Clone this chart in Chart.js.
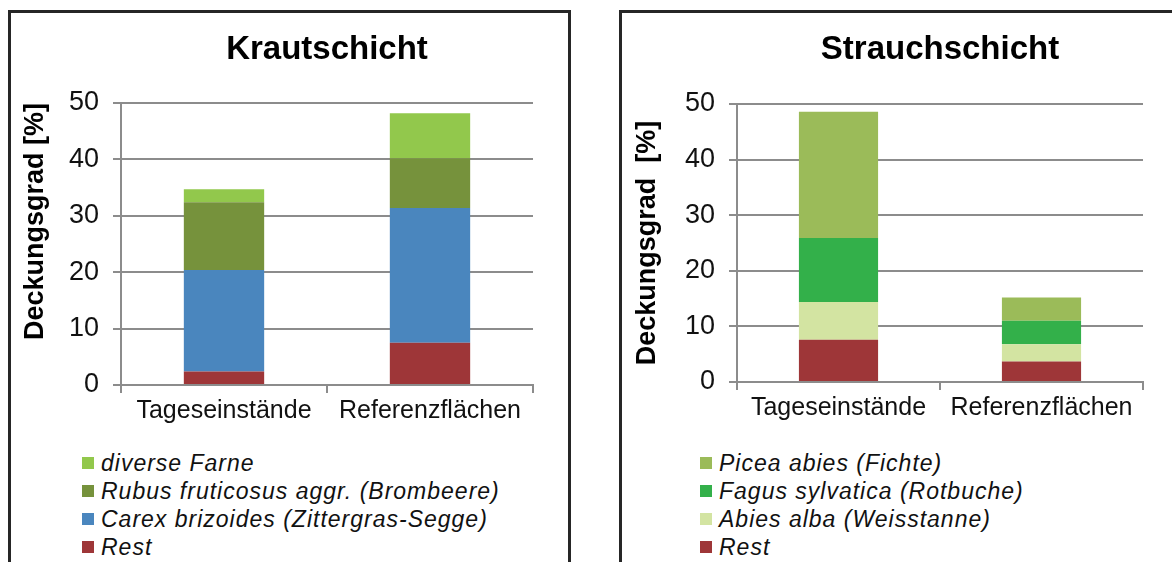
<!DOCTYPE html>
<html>
<head>
<meta charset="utf-8">
<script src="https://cdn.jsdelivr.net/npm/chart.js@4"></script>
<style>
  body { margin: 0; background: #fff; width: 1172px; height: 562px; overflow: hidden; position: relative; font-family: "Liberation Sans", Arial, sans-serif; }
  .frame { position: absolute; border: 3px solid #262626; box-sizing: border-box; }
  canvas { position: absolute; }
  .legend { position: absolute; font-style: italic; font-size: 23px; letter-spacing: 1px; color: #111; line-height: 28px; white-space: nowrap; }
  .legend div { display: flex; align-items: center; }
  .legend span.box { display: inline-block; width: 12px; height: 12px; margin-right: 7px; }
</style>
</head>
<body>
<div class="frame" style="left:8px; top:10px; width:563px; height:600px;"></div>
<div class="frame" style="left:619px; top:10px; width:600px; height:600px;"></div>
<canvas id="kraut" width="556" height="416" style="left:11px; top:13px;"></canvas>
<canvas id="strauch" width="549" height="413" style="left:623px; top:13px;"></canvas>
<div class="legend" id="legKraut" style="left:82px; top:449px;"></div>
<div class="legend" id="legStrauch" style="left:700px; top:449px;"></div>
<script>
// Kategorien und Werte (Deckungsgrad in %)
const kategorien = ["Tageseinstände", "Referenzflächen"];

// Krautschicht
const krautRest = [2.4, 7.5];
const krautCarex = [18.0, 23.9];
const krautRubus = [12.0, 8.8];
const krautFarne = [2.3, 8.0];

// Strauchschicht
const strauchRest = [7.6, 3.7];
const strauchAbies = [6.8, 3.1];
const strauchFagus = [11.5, 4.2];
const strauchPicea = [22.7, 4.2];

const yTicks = [0, 10, 20, 30, 40, 50];

const gridColor = "#8c8c8c";
const fontFamily = "'Liberation Sans', Arial, sans-serif";

function makeChart(id, title, yTitle, yTitleAlign, datasets, opts) {
  const ctx = document.getElementById(id).getContext("2d");
  return new Chart(ctx, {
    type: "bar",
    data: {
      labels: kategorien,
      datasets: datasets.map((d) => ({
        label: d.label,
        data: d.data,
        backgroundColor: d.color,
        borderWidth: 0,
        barPercentage: 0.39,
        categoryPercentage: 1,
      })),
    },
    options: {
      responsive: false,
      animation: false,
      devicePixelRatio: 1,
      layout: { padding: { left: 8, right: opts.padRight, top: 0, bottom: 0 } },
      plugins: {
        legend: { display: false },
        tooltip: { enabled: false },
        title: {
          display: true,
          text: title,
          fullSize: false,
          color: "#000",
          font: { family: fontFamily, size: 33, weight: "bold" },
          padding: { top: 17, bottom: opts.titleBottom },
        },
      },
      scales: {
        x: {
          stacked: true,
          grid: { display: true, drawOnChartArea: false, drawTicks: true, tickLength: 8, color: gridColor, lineWidth: 2 },
          border: { display: true, color: gridColor, width: 2 },
          ticks: { color: "#111", font: { family: fontFamily, size: 25 }, padding: 3 },
          afterFit: (scale) => { scale.height = 44; },
        },
        y: {
          stacked: true,
          min: 0,
          max: 50,
          afterBuildTicks: (scale) => { scale.ticks = yTicks.map((v) => ({ value: v })); },
          grid: { color: gridColor, lineWidth: 2, tickLength: 8 },
          border: { display: true, color: gridColor, width: 2 },
          ticks: { color: "#111", font: { family: fontFamily, size: 27 }, padding: 14 },
          title: {
            display: true,
            text: yTitle,
            align: yTitleAlign,
            color: "#000",
            font: { family: fontFamily, size: 27, weight: "bold" },
            padding: 0,
          },
          afterFit: (scale) => { scale.width = opts.yWidth; },
        },
      },
    },
  });
}

function buildLegend(id, chart) {
  const el = document.getElementById(id);
  const ds = chart.data.datasets.slice().reverse();
  ds.forEach((d) => {
    const row = document.createElement("div");
    const box = document.createElement("span");
    box.className = "box";
    box.style.background = d.backgroundColor;
    row.appendChild(box);
    row.appendChild(document.createTextNode(d.label));
    el.appendChild(row);
  });
}

const krautChart = makeChart("kraut", "Krautschicht", "Deckungsgrad [%]", "end", [
  { label: "Rest", data: krautRest, color: "#9e3638" },
  { label: "Carex brizoides (Zittergras-Segge)", data: krautCarex, color: "#4a86be" },
  { label: "Rubus fruticosus aggr. (Brombeere)", data: krautRubus, color: "#76923c" },
  { label: "diverse Farne", data: krautFarne, color: "#92c84c" },
], { padRight: 34, yWidth: 102, titleBottom: 33.4 });

const strauchChart = makeChart("strauch", "Strauchschicht", "Deckungsgrad  [%]", "center", [
  { label: "Rest", data: strauchRest, color: "#9e3638" },
  { label: "Abies alba (Weisstanne)", data: strauchAbies, color: "#d3e4a2" },
  { label: "Fagus sylvatica (Rotbuche)", data: strauchFagus, color: "#33b04a" },
  { label: "Picea abies (Fichte)", data: strauchPicea, color: "#9bbb59" },
], { padRight: 29, yWidth: 106, titleBottom: 34.4 });

buildLegend("legKraut", krautChart);
buildLegend("legStrauch", strauchChart);
</script>
</body>
</html>
